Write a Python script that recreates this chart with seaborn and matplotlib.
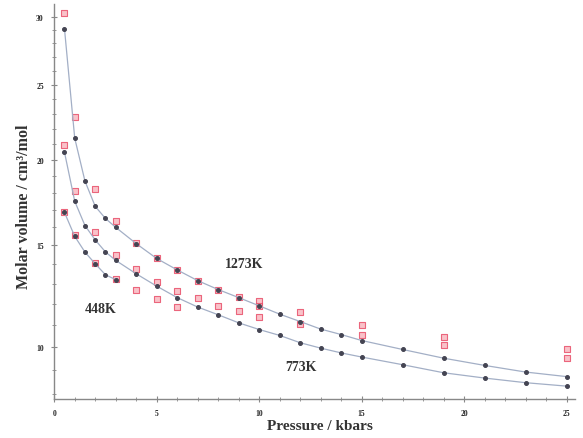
import numpy as np
import matplotlib
matplotlib.use('Agg')
import matplotlib.pyplot as plt
import seaborn as sns
from matplotlib.ticker import FixedLocator, MultipleLocator

# model curves (black dots + line)
p_model = [0.5, 1, 1.5, 2, 2.5, 3, 4, 5, 6, 7, 8, 9, 10, 11, 12, 13, 14, 15, 17, 19, 21, 23, 25]
v_1273 = [29.1, 21.4, 18.7, 17.2, 16.5, 16.0, 15.1, 14.3, 13.7, 13.15, 12.7, 12.3, 11.9, 11.5,
          11.15, 10.8, 10.55, 10.28, 9.88, 9.5, 9.19, 8.91, 8.72]
v_773 = [20.5, 17.5, 16.1, 15.3, 14.65, 14.2, 13.5, 12.87, 12.3, 11.84, 11.47, 11.09, 10.78, 10.51,
         10.18, 9.94, 9.73, 9.55, 9.22, 8.88, 8.66, 8.47, 8.33]
p_448 = [0.5, 1, 1.5, 2, 2.5, 3]
v_448 = [16.85, 15.5, 14.64, 14.02, 13.45, 13.2]

# experimental points (red squares)
p_exp_1273 = [0.5, 1, 2, 3, 4, 5, 6, 7, 8, 9, 10, 10, 12, 12, 15, 15, 19, 19, 25, 25]
v_exp_1273 = [30.3, 22.8, 18.2, 16.33, 15.13, 14.32, 13.67, 13.13, 12.7, 12.35, 12.14, 11.9,
              11.6, 11.05, 11.0, 10.54, 10.43, 10.06, 9.88, 9.5]
p_exp_773 = [0.5, 1, 2, 3, 4, 5, 6, 7, 8, 9, 10]
v_exp_773 = [20.93, 18.1, 15.74, 14.5, 13.76, 13.08, 12.65, 12.28, 11.89, 11.67, 11.36]
p_exp_448 = [0.5, 1, 2, 3, 4, 5, 6]
v_exp_448 = [16.87, 15.55, 14.05, 13.24, 12.7, 12.24, 11.84]

sns.set_style('white')
plt.rcParams['font.family'] = ['Liberation Serif', 'DejaVu Serif']

fig = plt.figure(figsize=(5.83, 4.39), dpi=100)
ax = fig.add_axes([0.093, 0.089, 0.893, 0.9])

red_kw = dict(marker='s', s=22, color='#f8b8c0', edgecolor='#e8506a', linewidth=0.8, alpha=0.85, zorder=2)
sns.scatterplot(x=p_exp_1273, y=v_exp_1273, ax=ax, **red_kw)
sns.scatterplot(x=p_exp_773, y=v_exp_773, ax=ax, **red_kw)
sns.scatterplot(x=p_exp_448, y=v_exp_448, ax=ax, **red_kw)

line_kw = dict(color='#a3afc6', linewidth=0.9, marker='o', markersize=2.8,
               markerfacecolor='#444452', markeredgecolor='#444452', zorder=3)
sns.lineplot(x=p_model, y=v_1273, ax=ax, **line_kw)
sns.lineplot(x=p_model, y=v_773, ax=ax, **line_kw)
sns.lineplot(x=p_448, y=v_448, ax=ax, **line_kw)

ax.set_yscale('function', functions=(np.sqrt, np.square))
ax.set_xlim(0, 25.4)
ax.set_ylim(7.82, 31.0)
ax.yaxis.set_major_locator(FixedLocator([10, 15, 20, 25, 30]))
ax.yaxis.set_minor_locator(FixedLocator(np.arange(8, 31, 1)))
ax.xaxis.set_major_locator(MultipleLocator(5))
ax.xaxis.set_minor_locator(MultipleLocator(1))
ax.yaxis.set_major_formatter(matplotlib.ticker.FormatStrFormatter('%d'))
ax.yaxis.set_minor_formatter(matplotlib.ticker.NullFormatter())

for side in ['top', 'right']:
    ax.spines[side].set_visible(False)
for side in ['left', 'bottom']:
    ax.spines[side].set_color('#888888')
    ax.spines[side].set_linewidth(1.0)
ax.tick_params(which='both', direction='inout', color='#888888', labelsize=5.5, pad=5)
ax.tick_params(which='major', length=5, width=0.8, left=True, bottom=True)
ax.tick_params(which='minor', length=3, width=0.6, left=True, bottom=True)
for lab in ax.get_xticklabels() + ax.get_yticklabels():
    lab.set_fontweight('bold')

ax.text(9.26, 14.02, '1273K', fontsize=10, fontweight='bold', ha='center', va='center', color='#333333')
ax.text(12.04, 9.13, '773K', fontsize=10, fontweight='bold', ha='center', va='center', color='#333333')
ax.text(2.28, 11.76, '448K', fontsize=10, fontweight='bold', ha='center', va='center', color='#333333')

ax.set_xlabel('Pressure / kbars', fontsize=11, fontweight='bold', color='#333333')
ax.set_ylabel('Molar volume / cm³/mol', fontsize=11.5, fontweight='bold', color='#333333')
ax.xaxis.set_label_coords(0.51, -0.052)
ax.yaxis.set_label_coords(-0.042, 0.49)

plt.savefig('out.png', dpi=100)
